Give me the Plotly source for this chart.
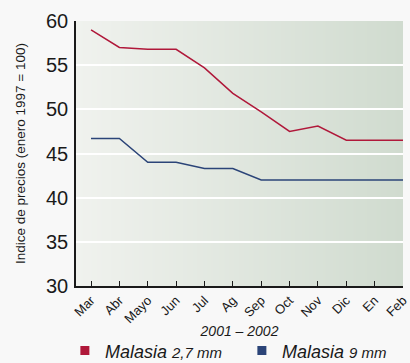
import plotly.graph_objects as go
import zlib, struct, base64

months = ["Mar", "Abr", "Mayo", "Jun", "Jul", "Ag", "Sep", "Oct", "Nov", "Dic", "En", "Feb"]
malasia_27 = [59.0, 57.0, 56.8, 56.8, 54.7, 51.8, 49.7, 47.5, 48.1, 46.5, 46.5, 46.5]
malasia_9 = [46.7, 46.7, 44.0, 44.0, 43.3, 43.3, 42.0, 42.0, 42.0, 42.0, 42.0, 42.0]
y_ticks = [30, 35, 40, 45, 50, 55, 60]

RED = "#b0183a"
BLUE = "#2b4478"
FONT = "Liberation Sans Narrow, Liberation Sans, Arial"


def gradient_png(c0, c1, w=256, h=2):
    rows = b""
    for _ in range(h):
        row = b"\x00"
        for i in range(w):
            t = i / (w - 1)
            row += bytes(int(round(c0[k] + (c1[k] - c0[k]) * t)) for k in range(3))
        rows += row
    def chunk(tag, data):
        c = struct.pack(">I", len(data)) + tag + data
        return c + struct.pack(">I", zlib.crc32(tag + data) & 0xffffffff)
    png = b"\x89PNG\r\n\x1a\n"
    png += chunk(b"IHDR", struct.pack(">IIBBBBB", w, h, 8, 2, 0, 0, 0))
    png += chunk(b"IDAT", zlib.compress(rows))
    png += chunk(b"IEND", b"")
    return "data:image/png;base64," + base64.b64encode(png).decode()


bg_img = gradient_png((0xf0, 0xf2, 0xee), (0xd0, 0xdb, 0xcf))

xidx = list(range(len(months)))
fig = go.Figure()

fig.add_trace(go.Scatter(x=xidx, y=malasia_27, mode="lines",
                         line=dict(color=RED, width=1.5), showlegend=False))
fig.add_trace(go.Scatter(x=xidx, y=malasia_9, mode="lines",
                         line=dict(color=BLUE, width=1.5), showlegend=False))

# legend entries
fig.add_trace(go.Scatter(x=[None], y=[None], mode="markers",
                         marker=dict(symbol="square", size=9, color=RED),
                         name="<i>Malasia</i> <i><span style='font-size:15px'>2,7 mm</span></i>"))
fig.add_trace(go.Scatter(x=[None], y=[None], mode="markers",
                         marker=dict(symbol="square", size=9, color=BLUE),
                         name="<i>Malasia</i> <i><span style='font-size:15px'>9 mm</span></i>"))

fig.add_layout_image(dict(source=bg_img, xref="paper", yref="paper", x=0, y=1,
                          sizex=1, sizey=1, xanchor="left", yanchor="top",
                          sizing="stretch", layer="below"))

fig.update_layout(
    width=410, height=363,
    margin=dict(l=76, r=7, t=21, b=77, autoexpand=False),
    paper_bgcolor="#f8f8f8",
    plot_bgcolor="#e4e9e2",
    font=dict(family=FONT, color="#1a1a1a"),
    xaxis=dict(
        tickmode="array", tickvals=xidx, ticktext=months,
        range=[-0.53, 11], tickangle=-45, automargin=False,
        tickfont=dict(size=13), ticks="inside", ticklen=5, tickcolor="#1a1a1a",
        showline=True, linecolor="#1a1a1a", linewidth=1.5,
        showgrid=False, zeroline=False,
        title=dict(text="<i>2001 – 2002</i>", font=dict(size=14), standoff=1),
    ),
    yaxis=dict(
        range=[30, 60], tickvals=y_ticks, automargin=False,
        tickfont=dict(size=20), ticks="", ticklabelstandoff=2,
        showline=True, linecolor="#1a1a1a", linewidth=1.5,
        showgrid=True, gridcolor="white", gridwidth=1.5, zeroline=False,
        title=dict(text="Indice de precios (enero 1997 = 100)", font=dict(size=13.5), standoff=17),
    ),
    legend=dict(orientation="h", x=-0.034, xanchor="left", y=-0.175, yanchor="top",
                font=dict(size=18), bgcolor="rgba(0,0,0,0)", entrywidth=132),
)

fig.write_html("out.html", post_script="document.body.style.margin='0';",
               config={"displayModeBar": False})
